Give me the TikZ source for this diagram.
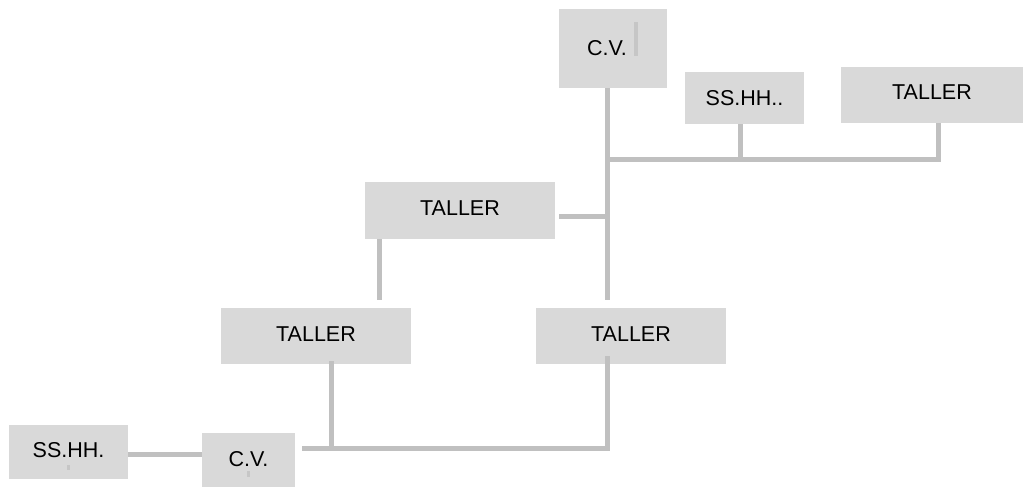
\documentclass[tikz,border=0pt]{standalone}
\usepackage{fontspec}
\setmainfont{Liberation Sans}
\definecolor{boxgray}{HTML}{D9D9D9}
\definecolor{wiregray}{HTML}{C0C0C0}
\definecolor{markgray}{HTML}{C6C6C6}

\begin{document}
\begin{tikzpicture}[x=1pt,y=-1pt,
  room/.style={fill=boxgray, inner sep=0pt, font=\fontsize{21.5}{25}\selectfont},
  wire/.style={draw=wiregray, line width=5pt},
  speck/.style={fill=markgray}]
\useasboundingbox (0,0) rectangle (1027,487);

\node[room, minimum width=108, minimum height=79] (CVa) at (613,48.5) {\raisebox{-3pt}{C.V.}\kern12pt};
\node[room, minimum width=119, minimum height=52] (SSa) at (744.5,98) {SS.HH..};
\node[room, minimum width=182, minimum height=56] (Ta) at (932,95) {\raisebox{5pt}{TALLER}};
\node[room, minimum width=190, minimum height=57] (Tb) at (460,210.5) {\raisebox{5pt}{TALLER}};
\node[room, minimum width=190, minimum height=56] (Tc) at (316,336) {\raisebox{3pt}{TALLER}};
\node[room, minimum width=190, minimum height=56] (Td) at (631,336) {\raisebox{3pt}{TALLER}};
\node[room, minimum width=93, minimum height=54] (CVb) at (248.5,460) {\raisebox{3pt}{C.V.}};
\node[room, minimum width=119, minimum height=54] (SSb) at (68.5,452) {\raisebox{5pt}{SS.HH.}};

% small marks inside boxes
\fill[speck] (634,22) rectangle (638,56);
\fill[speck] (67,465) rectangle (70,470);
\fill[speck] (247,471) rectangle (250,477);

\coordinate (spine) at (607,300);
\coordinate (tee) at (607,159);
\coordinate (ssdrop) at (740,159);
\coordinate (tadrop) at (938,159);
\coordinate (stub) at (607,216);
\coordinate (tbdrop) at (379,300);
\coordinate (tcdrop) at (331,446);
\coordinate (tddrop) at (607,448);
\coordinate (base) at (302,448);

\draw[wire] (CVa.south -| spine) -- (spine);
\draw[wire] (tee) -- (tadrop) -- (tadrop |- Ta.south);
\draw[wire] (ssdrop |- SSa.south) -- (ssdrop);
\draw[wire] ([xshift=4pt]Tb.east |- stub) -- (stub);
\draw[wire] (tbdrop |- Tb.south) -- (tbdrop);
\draw[wire] ([yshift=3pt]tcdrop |- Tc.south) -- (tcdrop);
\draw[wire] (base) -- (tddrop) -- ([yshift=8pt]tddrop |- Td.south);
\draw[wire] (SSb.east |- 0,454) -- (CVb.west |- 0,454);
\end{tikzpicture}
\end{document}
